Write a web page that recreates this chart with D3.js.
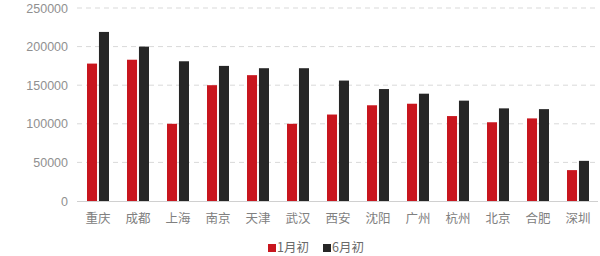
<!DOCTYPE html>
<html>
<head>
<meta charset="utf-8">
<script src="https://cdn.jsdelivr.net/npm/d3@7"></script>
<style>
  html, body { margin: 0; padding: 0; background: #fff; }
  svg { display: block; }
  text { font-family: "Noto Sans CJK SC", "Noto Sans", sans-serif; }
</style>
</head>
<body>
<svg id="chart" width="600" height="256"></svg>
<script>
// Cities, ordered as drawn along the x axis
const cities = ["重庆", "成都", "上海", "南京", "天津", "武汉", "西安", "沈阳", "广州", "杭州", "北京", "合肥", "深圳"];
// Series names (legend text)
const seriesNames = ["1月初", "6月初"];
// Values at the start of January
const janValues = [178000, 183000, 100000, 150000, 163000, 100000, 112000, 124000, 126000, 110000, 102000, 107000, 40000];
// Values at the start of June
const junValues = [219000, 200000, 181000, 175000, 172000, 172000, 156000, 145000, 139000, 130000, 120000, 119000, 52000];
// Y axis tick labels
const yTicks = [0, 50000, 100000, 150000, 200000, 250000];

const colors = ["#c8161e", "#262626"];
const svg = d3.select("#chart");

const x = d3.scaleBand().domain(cities).range([78, 598]).paddingInner(0.45).paddingOuter(0.225);
const xSub = d3.scaleBand().domain(seriesNames).range([0, x.bandwidth()]).paddingInner(0.16);
const y = d3.scaleLinear().domain([0, 250000]).range([201, 8]);

// Dashed horizontal gridlines
svg.append("g").selectAll("line")
  .data(yTicks.filter(d => d > 0))
  .join("line")
  .attr("x1", 77).attr("x2", 598)
  .attr("y1", d => y(d)).attr("y2", d => y(d))
  .attr("stroke", "#d9d9d9")
  .attr("stroke-width", 1)
  .attr("stroke-dasharray", "5,4");

// Y axis labels
const yAxis = svg.append("g")
  .attr("transform", "translate(68,0)")
  .call(d3.axisLeft(y).tickValues(yTicks).tickSize(0).tickPadding(0).tickFormat(d3.format("d")));
yAxis.select(".domain").remove();
yAxis.selectAll("text")
  .attr("fill", "#909090")
  .style("font-size", "12.5px")
  .style("font-family", "'Liberation Sans', 'Noto Sans', sans-serif");

// Bars
const rows = cities.map((c, i) => ({ city: c, values: [janValues[i], junValues[i]] }));
const groups = svg.append("g").selectAll("g")
  .data(rows)
  .join("g")
  .attr("transform", d => `translate(${x(d.city)},0)`);
groups.selectAll("rect")
  .data(d => d.values.map((v, k) => ({ key: seriesNames[k], value: v, k })))
  .join("rect")
  .attr("x", d => xSub(d.key))
  .attr("width", xSub.bandwidth())
  .attr("y", d => y(d.value))
  .attr("height", d => y(0) - y(d.value))
  .attr("fill", d => colors[d.k]);

// Baseline
svg.append("line")
  .attr("x1", 77).attr("x2", 598)
  .attr("y1", y(0) + 0.5).attr("y2", y(0) + 0.5)
  .attr("stroke", "#d0d0d0")
  .attr("stroke-width", 1);

// Category labels
const xAxis = svg.append("g")
  .attr("transform", `translate(0,${y(0)})`)
  .call(d3.axisBottom(x).tickSize(0).tickPadding(13));
xAxis.select(".domain").remove();
xAxis.selectAll("text")
  .attr("fill", "#808080")
  .style("font-size", "12.5px");

// Legend
const legend = svg.append("g").attr("transform", "translate(268,248)");
const legendItems = legend.selectAll("g")
  .data(seriesNames)
  .join("g")
  .attr("transform", (d, i) => `translate(${i * 55},0)`);
legendItems.append("rect")
  .attr("x", 0).attr("y", -4)
  .attr("width", 8).attr("height", 8)
  .attr("fill", (d, i) => colors[i]);
legendItems.append("text")
  .attr("x", 9).attr("y", 0)
  .attr("dy", "0.35em")
  .attr("fill", "#6a6a6a")
  .style("font-size", "12.5px")
  .text(d => d);
</script>
</body>
</html>
